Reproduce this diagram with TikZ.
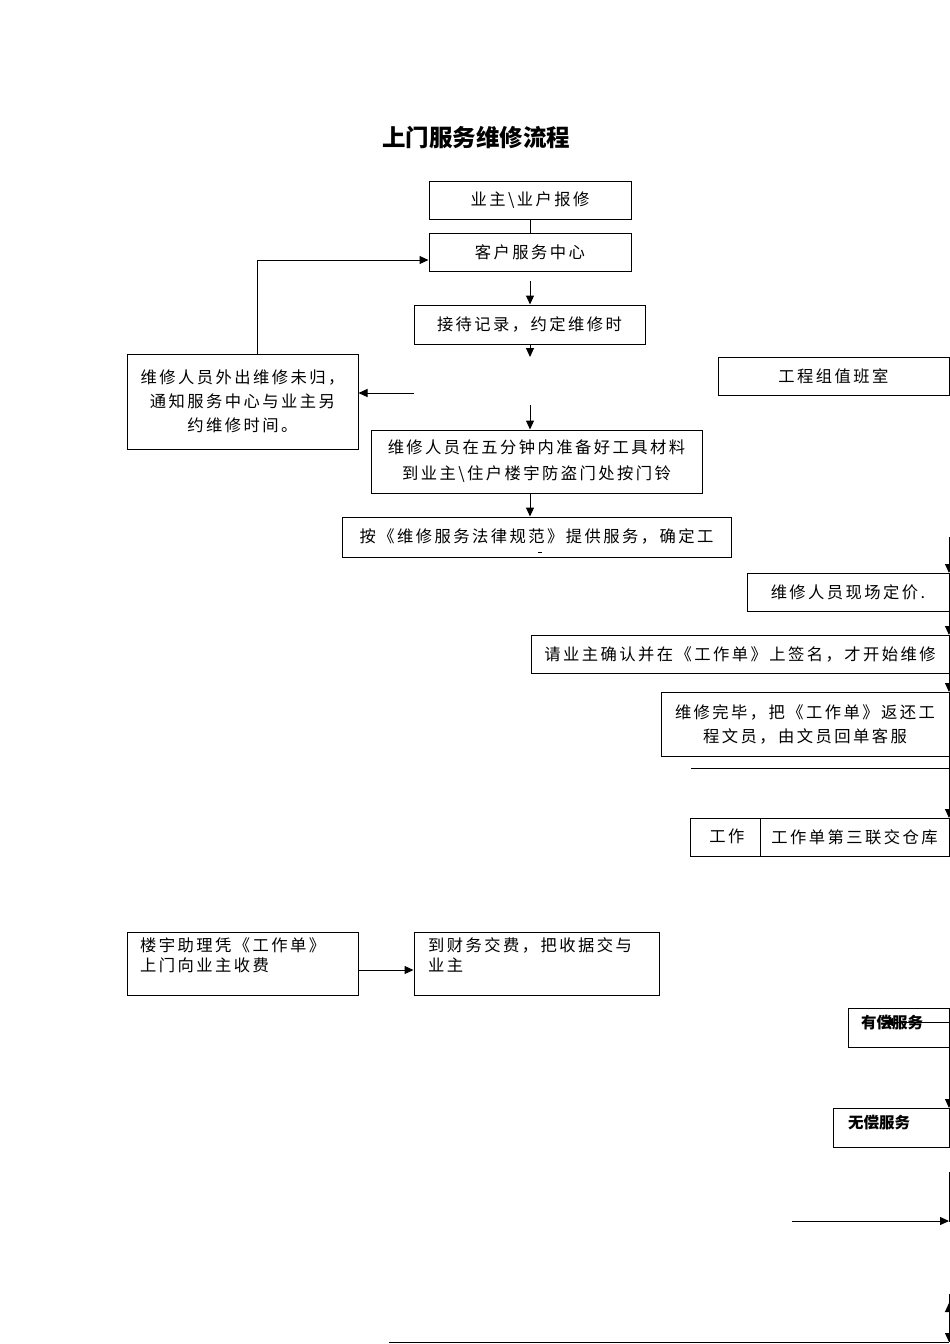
\documentclass[tikz,border=0pt]{standalone}
\usepackage{fontspec}
\newfontfamily\cjk[LetterSpace=15]{Noto Sans CJK SC}
\newfontfamily\cjkh{Noto Sans CJK SC}
\usetikzlibrary{arrows.meta}
\tikzset{
  box/.style={draw, line width=1pt, inner sep=0pt, align=center,
    font=\cjk\fontsize{16.3}{24}\selectfont},
  txt/.style={inner sep=0pt, align=left, anchor=north west,
    font=\cjk\fontsize{16.3}{20}\selectfont},
  hbox/.style={draw, line width=1pt, inner sep=0pt},
  htxt/.style={inner sep=0pt, font=\cjkh\bfseries\fontsize{15.5}{18}\selectfont},
  arr/.style={line width=1pt, -{Triangle[length=9pt,width=8pt]}},
  ln/.style={line width=1pt}
}
\begin{document}
\begin{tikzpicture}[x=1pt,y=-1pt]
\useasboundingbox (0,0) rectangle (950,1344);

\node[inner sep=0pt, font=\cjkh\bfseries\fontsize{23.5}{28}\selectfont] (title) at (476,137) {上门服务维修流程};

\node[box, minimum width=202pt, minimum height=38pt] (A) at (530,200) {业主\textbackslash 业户报修};
\node[box, minimum width=202pt, minimum height=38pt] (B) at (530,252) {客户服务中心};
\node[box, minimum width=231pt, minimum height=39pt] (C) at (529.5,324.5) {接待记录，约定维修时};
\node[box, minimum width=231pt, minimum height=95pt] (D) at (242.5,401.5) {维修人员外出维修未归，\\通知服务中心与业主另\\约维修时间。};
\node[box, minimum width=231pt, minimum height=38pt] (E) at (833.5,376) {工程组值班室};
\node[box, minimum width=331pt, minimum height=63pt, font=\cjk\fontsize{16.3}{26}\selectfont] (F) at (536.5,461.5) {维修人员在五分钟内准备好工具材料\\到业主\textbackslash 住户楼宇防盗门处按门铃};
\node[box, minimum width=389pt, minimum height=40pt] (G) at (536.5,537) {\raisebox{2pt}{按《维修服务法律规范》提供服务，确定工}};
\node[box, minimum width=202pt, minimum height=38pt] (H) at (848,592) {维修人员现场定价.};
\node[box, minimum width=418pt, minimum height=38pt] (I) at (740,654) {请业主确认并在《工作单》上签名，才开始维修};
\node[box, minimum width=288pt, minimum height=64pt] (J) at (805,724) {维修完毕，把《工作单》返还工\\程文员，由文员回单客服};
\node[box, minimum width=259pt, minimum height=38pt] (K1) at (819.5,837) {};
\node[inner sep=0pt, font=\cjk\fontsize{16.3}{20}\selectfont] (K1t) at (727,836) {工作};
\node[box, fill=white, minimum width=189pt, minimum height=38pt] (K2) at (854.5,837) {工作单第三联交仓库};

\node[box, minimum width=231pt, minimum height=63pt] (L) at (242.5,963.5) {};
\node[txt] (Lt) at (140,937) {楼宇助理凭《工作单》\\上门向业主收费};
\node[box, minimum width=245pt, minimum height=63pt] (M) at (536.5,963.5) {};
\node[txt] (Mt) at (428,937) {到财务交费，把收据交与\\业主};

\node[hbox, minimum width=101pt, minimum height=39pt] (N) at (898.5,1027.5) {};
\node[htxt] (Nt) at (892,1023) {有偿服务};
\node[hbox, minimum width=116pt, minimum height=39pt] (O) at (891,1127.5) {};
\node[htxt] (Ot) at (879,1123) {无偿服务};

% coordinates for free ends
\coordinate (b1) at (530,281);
\coordinate (c1) at (530,357);
\coordinate (f0) at (530,405);
\coordinate (d0) at (414,393);
\coordinate (dt) at (257,354);
\coordinate (r0) at (949,537);
\coordinate (r1) at (949,573);
\coordinate (r2) at (949,611);
\coordinate (r3) at (949,635);
\coordinate (r4) at (949,673);
\coordinate (r5) at (949,692);
\coordinate (r6) at (949,756);
\coordinate (r7) at (949,818);
\coordinate (h1) at (691,768);
\coordinate (h2) at (949,768);
\coordinate (n1) at (949,1022);
\coordinate (n2) at (884,1022);
\coordinate (r8) at (949,1047);
\coordinate (r9) at (949,1108);
\coordinate (s1) at (949,1172);
\coordinate (s2) at (949,1222);
\coordinate (s3) at (792,1221);
\coordinate (s4) at (949,1221);
\coordinate (t1) at (949,1294);
\coordinate (t2) at (949,1303);
\coordinate (t3) at (949,1342);
\coordinate (t4) at (389,1342);

% connectors
\draw[ln] (A.south) -- (B.north);
\draw[arr] (b1) -- (b1 |- C.north);
\draw[arr] (b1 |- C.south) -- (c1);
\draw[arr] (dt) |- ([yshift=-8pt]B.west);
\draw[arr] (d0) -- (d0 -| D.east);
\draw[arr] (f0) -- (f0 |- F.north);
\draw[arr] (f0 |- F.south) -- (f0 |- G.north);
\draw[arr] ([yshift=-6.5pt]L.east) -- ([yshift=-6.5pt]M.west);
\draw[ln] (538,552.5) -- (542,552.5);
\draw[arr] (r0) -- (r1);
\draw[arr] (r2) -- (r3);
\draw[arr] (r4) -- (r5);
\draw[ln] (h1) -- (h2);
\draw[arr] (r6) -- (r7);
\draw[arr] (n1) -- (n2);
\draw[arr] (r8) -- (r9);
\draw[ln] (s1) -- (s2);
\draw[arr] (s3) -- (s4);
\draw[ln] (t1) -- (t3);
\draw[arr] (949,1320) -- (t2);
\draw[arr] (949,1325) -- (t3);
\draw[ln] (t4) -- (t3);
\end{tikzpicture}
\end{document}
